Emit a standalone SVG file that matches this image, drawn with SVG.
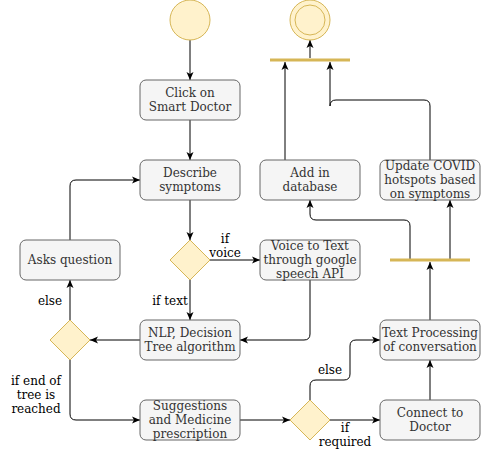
<svg xmlns="http://www.w3.org/2000/svg" width="481" height="451" viewBox="0 0 481 451">
<style>
.box{fill:#f5f5f5;stroke:#666666;stroke-width:1}
.dec{fill:#fff2cc;stroke:#d6b656;stroke-width:1}
.bar{fill:#d6b656;stroke:none}
.t{font-family:"DejaVu Serif",serif;font-size:12px;fill:#333333;text-anchor:middle}
.lbl{font-family:"DejaVu Serif",serif;font-size:12px;fill:#000000;text-anchor:middle}
.e{fill:none;stroke:#000000;stroke-width:1;marker-end:url(#arr)}
</style>
<defs>
<marker id="arr" markerUnits="userSpaceOnUse" markerWidth="8" markerHeight="8" viewBox="0 0 8 8" refX="8" refY="4" orient="auto">
<path d="M0,0.5 L8,4 L0,7.5 L2,4 Z" fill="#000000"/>
</marker>
</defs>
<rect width="481" height="451" fill="#ffffff"/>
<g id="connectors">
<path class="e" d="M190,40 V80"/>
<path class="e" d="M190,120 V160"/>
<path class="e" d="M190,200 V240"/>
<path class="e" d="M210,260 H260"/>
<path class="e" d="M190,280 V320"/>
<path class="e" d="M310,280 V334 Q310,340 304,340 H240"/>
<path class="e" d="M140,340 H90"/>
<path class="e" d="M70,320 V280"/>
<path class="e" d="M70,240 V186 Q70,180 76,180 H140"/>
<path class="e" d="M70,360 V414 Q70,420 76,420 H140"/>
<path class="e" d="M240,420 H290"/>
<path class="e" d="M330,420 H380"/>
<path class="e" d="M310,400 V386 Q310,380 316,380 H344 Q350,380 350,374 V346 Q350,340 356,340 H380"/>
<path class="e" d="M430,400 V360"/>
<path class="e" d="M430,320 V262"/>
<path class="e" d="M410,259 V226 Q410,220 404,220 H316 Q310,220 310,214 V200"/>
<path class="e" d="M450,259 V200"/>
<path class="e" d="M285,160 V62"/>
<path class="e" d="M430,160 V106 Q430,100 424,100 H336 Q330,100 330,106 V62"/>
<path class="e" d="M310,58 V40"/>
<text class="lbl" x="225" y="243">if</text>
<text class="lbl" x="225" y="257">voice</text>
<text class="lbl" x="170" y="305">if text</text>
<text class="lbl" x="50" y="305">else</text>
<text class="lbl" x="36" y="385">if end of</text>
<text class="lbl" x="36" y="399">tree is</text>
<text class="lbl" x="36" y="413">reached</text>
<text class="lbl" x="330" y="374">else</text>
<text class="lbl" x="345" y="432">if</text>
<text class="lbl" x="345" y="446">required</text>
</g>
<g id="start"><circle class="dec" cx="190" cy="20" r="20"/></g>
<g id="end"><circle class="dec" cx="310" cy="20" r="20"/><circle class="dec" cx="310" cy="20" r="15"/></g>
<g id="bar1"><rect class="bar" x="270" y="58.5" width="80" height="3"/></g>
<g id="bar2"><rect class="bar" x="390" y="258.5" width="80" height="3"/></g>
<g id="click"><rect class="box" x="140" y="80" width="100" height="40" rx="6"/><text class="t" x="190" y="97">Click on</text><text class="t" x="190" y="111">Smart Doctor</text></g>
<g id="describe"><rect class="box" x="140" y="160" width="100" height="40" rx="6"/><text class="t" x="190" y="177">Describe</text><text class="t" x="190" y="191">symptoms</text></g>
<g id="dec1"><path class="dec" d="M190,240 L210,260 L190,280 L170,260 Z"/></g>
<g id="asks"><rect class="box" x="20" y="240" width="100" height="40" rx="6"/><text class="t" x="70" y="264">Asks question</text></g>
<g id="voice"><rect class="box" x="260" y="240" width="100" height="40" rx="6"/><text class="t" x="310" y="250">Voice to Text</text><text class="t" x="310" y="264">through google</text><text class="t" x="310" y="278">speech API</text></g>
<g id="db"><rect class="box" x="260" y="160" width="100" height="40" rx="6"/><text class="t" x="310" y="177">Add in</text><text class="t" x="310" y="191">database</text></g>
<g id="covid"><rect class="box" x="380" y="160" width="100" height="40" rx="6"/><text class="t" x="430" y="170">Update COVID</text><text class="t" x="430" y="184">hotspots based</text><text class="t" x="430" y="198">on symptoms</text></g>
<g id="dec2"><path class="dec" d="M70,320 L90,340 L70,360 L50,340 Z"/></g>
<g id="nlp"><rect class="box" x="140" y="320" width="100" height="40" rx="6"/><text class="t" x="190" y="337">NLP, Decision</text><text class="t" x="190" y="351">Tree algorithm</text></g>
<g id="sugg"><rect class="box" x="140" y="400" width="100" height="40" rx="6"/><text class="t" x="190" y="410">Suggestions</text><text class="t" x="190" y="424">and Medicine</text><text class="t" x="190" y="438">prescription</text></g>
<g id="dec3"><path class="dec" d="M310,400 L330,420 L310,440 L290,420 Z"/></g>
<g id="connect"><rect class="box" x="380" y="400" width="100" height="40" rx="6"/><text class="t" x="430" y="417">Connect to</text><text class="t" x="430" y="431">Doctor</text></g>
<g id="textproc"><rect class="box" x="380" y="320" width="100" height="40" rx="6"/><text class="t" x="430" y="337">Text Processing</text><text class="t" x="430" y="351">of conversation</text></g>
</svg>
